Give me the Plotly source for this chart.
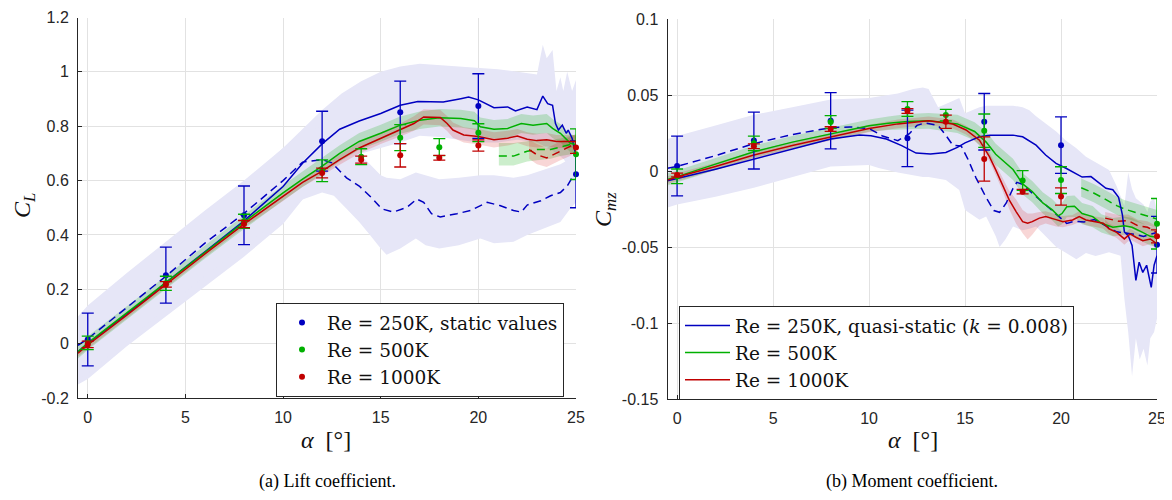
import plotly.graph_objects as go

# ---------------- lift coefficient (left panel) ----------------
# Re = 250K, quasi-static, upstroke (solid) and downstroke (dashed)
cl_b_up_a = [-0.5, 0, 1, 2, 3, 4, 5, 6, 7, 8, 9, 10, 11, 12, 12.9, 13.9, 15, 16, 16.9, 18.2,
             19.1, 19.5, 20, 20.8, 21.5, 21.9, 22.5, 23.0, 23.3, 23.55, 23.8, 23.95, 24.1, 24.3,
             24.5, 24.6, 24.8, 25.0, 25.0]
cl_b_up = [-0.03, 0.0, 0.055, 0.11, 0.165, 0.225, 0.28, 0.338, 0.395, 0.452, 0.515, 0.578, 0.664,
           0.735, 0.789, 0.819, 0.847, 0.877, 0.891, 0.889, 0.901, 0.907, 0.897, 0.868, 0.871,
           0.856, 0.871, 0.861, 0.911, 0.883, 0.877, 0.81, 0.786, 0.804, 0.774, 0.786, 0.756,
           0.69, 0.62]
cl_b_dn_a = [-0.5, 0, 2, 4, 6, 8, 10, 11, 12, 12.5, 13.25, 13.9, 14.6, 15.05, 15.65, 16.35, 16.85,
             17.2, 17.6, 18.05, 18.9, 19.6, 20.45, 21.1, 21.8, 22.2, 22.5, 23.2, 23.7, 24.2, 24.55,
             24.8, 25]
cl_b_dn = [-0.006, 0.018, 0.133, 0.248, 0.37, 0.479, 0.60, 0.668, 0.677, 0.665, 0.61, 0.58, 0.532,
           0.496, 0.484, 0.502, 0.532, 0.52, 0.478, 0.466, 0.478, 0.49, 0.52, 0.508, 0.49, 0.484,
           0.51, 0.526, 0.544, 0.556, 0.58, 0.61, 0.62]

# Re = 250K scatter bands (upstroke / downstroke)
cl_bb_up_a = [-0.5, 0, 2, 4, 6, 8, 10, 11, 12, 13, 14, 15, 16, 17, 18, 19, 20, 21, 22, 23, 23.3,
              23.5, 23.8, 24.0, 24.2, 24.35, 24.55, 24.8, 25]
cl_bb_up_hi = [0.09, 0.13, 0.245, 0.36, 0.475, 0.59, 0.72, 0.79, 0.86, 0.92, 0.965, 1.0, 1.02,
               1.03, 1.025, 1.02, 1.015, 1.01, 1.0, 0.99, 1.10, 1.05, 1.08, 0.93, 0.98, 0.93, 1.0,
               0.93, 0.97]
cl_bb_up_lo = [-0.15, -0.13, -0.01, 0.10, 0.21, 0.32, 0.44, 0.53, 0.62, 0.67, 0.70, 0.72, 0.74,
               0.765, 0.76, 0.75, 0.74, 0.74, 0.75, 0.74, 0.73, 0.72, 0.71, 0.70, 0.69, 0.68, 0.66,
               0.62, 0.58]
cl_bb_dn_a = [-0.5, 0, 2, 4, 6, 8, 10, 11, 12, 12.6, 13.25, 13.9, 14.45, 15, 15.3, 16, 16.8, 17.3,
              18, 19, 20.1, 20.8, 21.8, 22.5, 23.3, 24.2, 24.7, 25]
cl_bb_dn_lo = [-0.13, -0.11, 0.01, 0.13, 0.25, 0.36, 0.46, 0.53, 0.556, 0.544, 0.496, 0.448, 0.40,
               0.35, 0.327, 0.35, 0.387, 0.362, 0.35, 0.362, 0.387, 0.369, 0.375, 0.40, 0.424,
               0.448, 0.496, 0.52]
cl_bb_dn_hi = [0.10, 0.14, 0.26, 0.375, 0.49, 0.60, 0.72, 0.78, 0.80, 0.78, 0.74, 0.70, 0.66, 0.62,
               0.61, 0.605, 0.63, 0.62, 0.605, 0.61, 0.62, 0.62, 0.61, 0.62, 0.64, 0.66, 0.68, 0.70]

# Re = 500K
cl_g_a = [-0.5, 0, 2, 4, 6, 8, 8.8, 10, 11, 12, 12.9, 13.9, 15, 16, 17, 18, 19.1, 19.8, 20.1, 20.8,
          21.5, 22.2, 22.8, 23.5, 23.8, 24.2, 24.7, 25]
cl_g = [-0.03, 0.002, 0.113, 0.225, 0.338, 0.447, 0.49, 0.555, 0.605, 0.653, 0.70, 0.744, 0.774,
        0.804, 0.822, 0.831, 0.828, 0.82, 0.798, 0.789, 0.792, 0.81, 0.804, 0.81, 0.792, 0.774,
        0.738, 0.732]
cl_g_lo = [-0.055, -0.023, 0.088, 0.2, 0.313, 0.422, 0.463, 0.527, 0.576, 0.623, 0.67, 0.713, 0.743,
           0.772, 0.79, 0.799, 0.795, 0.787, 0.764, 0.755, 0.757, 0.775, 0.769, 0.775, 0.757, 0.74,
           0.705, 0.70]
cl_g_hi = [-0.005, 0.027, 0.138, 0.25, 0.363, 0.472, 0.517, 0.583, 0.634, 0.683, 0.73, 0.775, 0.805,
           0.836, 0.854, 0.863, 0.861, 0.853, 0.832, 0.823, 0.827, 0.845, 0.839, 0.845, 0.827,
           0.808, 0.771, 0.764]
cl_gd_a = [21.05, 21.8, 22.5, 23, 23.7, 24.2, 25]
cl_gd = [0.69, 0.69, 0.708, 0.714, 0.714, 0.723, 0.738]
cl_gd_lo = [0.655, 0.655, 0.67, 0.675, 0.68, 0.69, 0.70]
cl_gd_hi = [0.738, 0.738, 0.745, 0.75, 0.75, 0.755, 0.77]

# Re = 1000K
cl_r_a = [-0.5, 0, 2, 4, 6, 8, 8.8, 10, 11, 12, 12.9, 13.9, 15, 16, 16.7, 17.2, 18.05, 18.4, 18.7,
          19.25, 20, 20.8, 21.5, 22, 22.5, 23, 23.5, 24, 24.5, 25]
cl_r = [-0.035, -0.005, 0.105, 0.218, 0.33, 0.44, 0.48, 0.54, 0.593, 0.635, 0.677, 0.72, 0.756,
        0.786, 0.81, 0.834, 0.832, 0.81, 0.786, 0.768, 0.762, 0.75, 0.756, 0.764, 0.752, 0.747,
        0.75, 0.744, 0.744, 0.744]
cl_r_lo = [-0.047, -0.017, 0.093, 0.206, 0.318, 0.428, 0.466, 0.525, 0.577, 0.618, 0.658, 0.70,
           0.735, 0.762, 0.783, 0.806, 0.804, 0.782, 0.758, 0.74, 0.733, 0.722, 0.729, 0.738, 0.726,
           0.722, 0.725, 0.72, 0.72, 0.72]
cl_r_hi = [-0.023, 0.007, 0.117, 0.23, 0.342, 0.452, 0.494, 0.555, 0.609, 0.652, 0.696, 0.74, 0.777,
           0.81, 0.837, 0.862, 0.86, 0.838, 0.814, 0.796, 0.79, 0.778, 0.783, 0.79, 0.778, 0.772,
           0.775, 0.768, 0.768, 0.768]
cl_rd_a = [22.6, 23, 23.5, 23.8, 24.2, 24.7, 25]
cl_rd = [0.714, 0.695, 0.683, 0.695, 0.708, 0.726, 0.738]
cl_rd_lo = [0.68, 0.66, 0.65, 0.66, 0.675, 0.69, 0.71]
cl_rd_hi = [0.75, 0.735, 0.72, 0.73, 0.745, 0.76, 0.77]

# static values with error bars
st_a_b = [0, 4, 8, 12, 16, 20, 25]
st_a_gr = [0, 4, 8, 12, 14, 16, 18, 20, 25]
cl_st_b = [0.015, 0.252, 0.472, 0.745, 0.851, 0.874, 0.623]
cl_st_b_err = [0.097, 0.103, 0.108, 0.110, 0.115, 0.119, 0.123]
cl_st_g = [0.003, 0.222, 0.45, 0.636, 0.688, 0.758, 0.723, 0.776, 0.697]
cl_st_g_err = [0.025, 0.026, 0.026, 0.04, 0.029, 0.048, 0.031, 0.033, 0.093]
cl_st_r = [-0.003, 0.218, 0.44, 0.628, 0.677, 0.693, 0.684, 0.729, 0.722]
cl_st_r_err = [0.012, 0.01, 0.013, 0.018, 0.013, 0.043, 0.009, 0.021, 0.022]

# ---------------- moment coefficient (right panel) ----------------
cm_b_up_a = [-0.5, 0, 2, 4, 6, 8, 9.5, 10.1, 10.9, 11.7, 12.45, 13.2, 14, 14.6, 15, 15.75, 16.3,
             17.5, 18, 18.7, 19.2, 19.74, 20.26, 20.78, 21.1, 21.56, 22, 22.34, 22.7, 23.0, 23.2,
             23.3, 23.5, 23.7, 23.9, 24.07, 24.26, 24.46, 24.7, 24.85, 25]
cm_b_up = [-0.0064, -0.005, 0.0012, 0.0079, 0.0145, 0.021, 0.0237, 0.0232, 0.021, 0.0167, 0.0118,
           0.0112, 0.0122, 0.0155, 0.0185, 0.0225, 0.0236, 0.0236, 0.0225, 0.017, 0.0105, 0.005,
           0.0018, -0.0015, -0.004, -0.0037, -0.008, -0.0114, -0.0123, -0.0173, -0.029, -0.04,
           -0.0425, -0.049, -0.072, -0.06, -0.0667, -0.062, -0.0765, -0.062, -0.0557]
cm_b_dn_a = [-0.5, 0, 2, 4, 6, 8, 9, 10, 10.7, 11.5, 12.1, 12.5, 12.9, 13.6, 14, 14.36, 14.8, 15.16,
             15.57, 16.1, 16.5, 16.8, 17.14, 17.5, 17.7, 18, 18.7, 19.4, 19.9, 20.3, 20.7, 21.2,
             21.75, 22.3, 22.9, 23.7, 24.3, 25]
cm_b_dn = [0.0018, 0.003, 0.0101, 0.018, 0.024, 0.0285, 0.029, 0.028, 0.023, 0.020, 0.0245, 0.030,
           0.0316, 0.030, 0.0235, 0.017, 0.0165, 0.0075, -0.0045, -0.0175, -0.026, -0.0272,
           -0.0212, -0.0114, -0.0075, -0.0088, -0.0168, -0.0245, -0.030, -0.0345, -0.033, -0.0335,
           -0.032, -0.036, -0.040, -0.0414, -0.043, -0.0404]
cm_bb_a = [-0.5, 0, 2, 4, 6, 8, 10, 10.5, 11.5, 12.3, 12.8, 13.1, 13.6, 14, 14.7, 15, 15.75, 16.1,
           16.6, 16.8, 17.1, 17.5, 18, 18.35, 18.7, 19.2, 19.75, 20.25, 20.8, 21.3, 21.8, 22.5,
           22.9, 23.1, 23.3, 23.5, 23.7, 23.9, 24.1, 24.3, 24.5, 24.65, 24.85, 25]
cm_bb_hi = [0.021, 0.023, 0.030, 0.037, 0.042, 0.047, 0.048, 0.049, 0.051, 0.054, 0.055, 0.054,
            0.042, 0.044, 0.048, 0.038, 0.042, 0.043, 0.043, 0.043, 0.043, 0.043, 0.042, 0.040,
            0.036, 0.031, 0.026, 0.02, 0.015, 0.0094, 0.006, 0.0007, -0.01, -0.016, -0.023, -0.001,
            -0.012, -0.018, -0.02, -0.022, -0.027, -0.02, -0.018, -0.027]
cm_bb_lo = [-0.024, -0.022, -0.017, -0.011, -0.004, 0.003, 0.004, 0.002, -0.001, -0.003, -0.004,
            -0.004, -0.005, -0.006, -0.0125, -0.0256, -0.032, -0.030, -0.043, -0.05, -0.045,
            -0.0365, -0.039, -0.038, -0.0365, -0.043, -0.05, -0.054, -0.058, -0.054, -0.056,
            -0.0535, -0.055, -0.0557, -0.084, -0.106, -0.135, -0.11, -0.124, -0.117, -0.128, -0.11,
            -0.106, -0.097]

cm_g_a = [-0.5, 0, 2, 4, 6, 8, 10, 11, 12, 13.1, 14.6, 15.5, 16.1, 16.6, 17.1, 17.5, 18, 18.5,
          19.05, 19.55, 19.85, 20.05, 20.3, 20.7, 21.1, 21.65, 22.1, 22.7, 23.3, 23.7, 24.25,
          24.65, 25]
cm_g = [-0.0055, -0.0037, 0.0045, 0.0127, 0.019, 0.0243, 0.0298, 0.0314, 0.0325, 0.033, 0.031,
        0.026, 0.019, 0.011, 0.0055, 0.001, -0.0085, -0.0135, -0.021, -0.0256, -0.0295, -0.028,
        -0.0235, -0.0232, -0.028, -0.030, -0.0344, -0.037, -0.036, -0.037, -0.0404, -0.043,
        -0.0436]
cm_g_lo = [-0.0095, -0.0077, 0.0005, 0.0087, 0.015, 0.0203, 0.0258, 0.027, 0.0275, 0.0278, 0.025,
           0.020, 0.012, 0.004, -0.0015, -0.006, -0.0155, -0.0205, -0.028, -0.0326, -0.0365,
           -0.035, -0.0305, -0.0302, -0.035, -0.037, -0.0404, -0.043, -0.042, -0.043, -0.0464,
           -0.049, -0.0496]
cm_g_hi = [-0.0015, 0.0003, 0.0085, 0.0167, 0.023, 0.0283, 0.0338, 0.0358, 0.0375, 0.0382, 0.037,
           0.032, 0.026, 0.018, 0.0125, 0.008, -0.0015, -0.0065, -0.014, -0.0186, -0.0225, -0.021,
           -0.0165, -0.0162, -0.021, -0.023, -0.0284, -0.031, -0.030, -0.031, -0.0344, -0.037,
           -0.0376]
cm_gd_a = [21.05, 21.7, 22.2, 22.9, 23.3, 23.9, 24.45, 25]
cm_gd = [-0.011, -0.0145, -0.0178, -0.0228, -0.025, -0.0272, -0.0294, -0.0316]
cm_gd_lo = [-0.017, -0.0205, -0.0238, -0.0288, -0.031, -0.0332, -0.0354, -0.0376]
cm_gd_hi = [-0.005, -0.0085, -0.0118, -0.0168, -0.019, -0.0212, -0.0234, -0.0256]

cm_r_a = [-0.5, 0, 2, 4, 6, 8, 10, 11.5, 13.1, 14.36, 15.05, 15.75, 16.27, 16.6, 16.96, 17.3,
          17.66, 18, 18.26, 18.5, 18.87, 19.2, 19.74, 20.1, 20.6, 20.95, 21.3, 21.8, 22.2, 22.5,
          22.9, 23.3, 23.6, 23.9, 24.26, 24.65, 25]
cm_r = [-0.006, -0.004, 0.003, 0.0105, 0.0168, 0.0226, 0.028, 0.031, 0.033, 0.0309, 0.027, 0.0203,
        0.0094, 0.0007, -0.0092, -0.019, -0.0267, -0.0333, -0.0344, -0.0333, -0.031, -0.030,
        -0.032, -0.0333, -0.0322, -0.030, -0.0322, -0.0333, -0.0344, -0.038, -0.0404, -0.0447,
        -0.0414, -0.0436, -0.0458, -0.0447, -0.048]
cm_r_lo = [-0.0085, -0.0065, 0.0005, 0.008, 0.0143, 0.0201, 0.0255, 0.0282, 0.0302, 0.0279, 0.024,
           0.0173, 0.0064, -0.0028, -0.0132, -0.025, -0.0347, -0.041, -0.045, -0.042, -0.036,
           -0.0345, -0.0365, -0.037, -0.0355, -0.0335, -0.0355, -0.0368, -0.038, -0.0415, -0.044,
           -0.0485, -0.045, -0.047, -0.0495, -0.048, -0.0515]
cm_r_hi = [-0.0035, -0.0015, 0.0055, 0.013, 0.0193, 0.0251, 0.0305, 0.0338, 0.0358, 0.0339, 0.030,
           0.0233, 0.0124, 0.0042, -0.0052, -0.013, -0.0187, -0.0256, -0.028, -0.028, -0.027,
           -0.0265, -0.0285, -0.0296, -0.0289, -0.0265, -0.0289, -0.0298, -0.0308, -0.0345,
           -0.0368, -0.041, -0.0378, -0.0402, -0.0421, -0.0414, -0.0445]
cm_rd_a = [22.3, 23, 23.5, 24, 24.5, 25]
cm_rd = [-0.031, -0.033, -0.0327, -0.036, -0.037, -0.0404]
cm_rd_lo = [-0.035, -0.037, -0.0367, -0.040, -0.041, -0.0444]
cm_rd_hi = [-0.027, -0.029, -0.0287, -0.032, -0.033, -0.0364]

cm_st_b = [0.0033, 0.020, 0.033, 0.0215, 0.0324, 0.017, -0.0485]
cm_st_b_err = [0.0197, 0.0187, 0.0185, 0.0186, 0.0186, 0.0186, 0.0186]
cm_st_g = [-0.0035, 0.0182, 0.0322, 0.0408, 0.0368, 0.0265, -0.0062, -0.006, -0.0347]
cm_st_g_err = [0.0048, 0.0048, 0.0042, 0.0048, 0.0038, 0.011, 0.0065, 0.0088, 0.0166]
cm_st_r = [-0.0026, 0.0163, 0.0276, 0.0395, 0.0324, 0.0079, -0.0136, -0.0168, -0.043]
cm_st_r_err = [0.0012, 0.0016, 0.0015, 0.0016, 0.0043, 0.0145, 0.0015, 0.0057, 0.0043]

# ticks
x_ticks = [0, 5, 10, 15, 20, 25]
cl_ticks = [-0.2, 0, 0.2, 0.4, 0.6, 0.8, 1, 1.2]
cl_ticktext = ["-0.2", "0", "0.2", "0.4", "0.6", "0.8", "1", "1.2"]
cm_ticks = [-0.15, -0.1, -0.05, 0, 0.05, 0.1]
cm_ticktext = ["-0.15", "-0.1", "-0.05", "0", "0.05", "0.1"]

names = ["Re = 250K, static values", "Re = 500K", "Re = 1000K"]
names_qs = ["Re = 250K, quasi-static (<i>k</i> = 0.008)", "Re = 500K", "Re = 1000K"]

BLUE, GREEN, RED = "#0000c0", "#00b000", "#c00000"
LAV = "#e6e6f7"
GFILL, RFILL = "rgba(0,170,0,0.20)", "rgba(210,0,0,0.16)"
SERIF = "Liberation Serif"
LEG_SERIF = "DejaVu Serif"
SANS = "Liberation Sans"

fig = go.Figure()


def band(a, lo, hi, color, xa, ya):
    fig.add_trace(go.Scatter(x=list(a) + list(a)[::-1], y=list(hi) + list(lo)[::-1],
                             fill="toself", fillcolor=color, line=dict(width=0),
                             mode="lines", hoverinfo="skip", showlegend=False,
                             xaxis=xa, yaxis=ya))


def curve(a, v, color, xa, ya, dash="solid", name=None, legend=None):
    fig.add_trace(go.Scatter(x=a, y=v, mode="lines", line=dict(color=color, width=1.5, dash=dash),
                             name=name, showlegend=legend is not None,
                             legend=legend or "legend", xaxis=xa, yaxis=ya))


def static(a, v, err, color, xa, ya, name=None, legend=None):
    fig.add_trace(go.Scatter(x=a, y=v, mode="markers", marker=dict(color=color, size=6),
                             error_y=dict(type="data", array=err, color=color, thickness=1.3,
                                          width=6),
                             name=name, showlegend=legend is not None, cliponaxis=False,
                             legend=legend or "legend", xaxis=xa, yaxis=ya))


# left panel
band(cl_bb_up_a, cl_bb_up_lo, cl_bb_up_hi, LAV, "x", "y")
band(cl_bb_dn_a, cl_bb_dn_lo, cl_bb_dn_hi, LAV, "x", "y")
band(cl_g_a, cl_g_lo, cl_g_hi, GFILL, "x", "y")
band(cl_gd_a, cl_gd_lo, cl_gd_hi, GFILL, "x", "y")
band(cl_r_a, cl_r_lo, cl_r_hi, RFILL, "x", "y")
band(cl_rd_a, cl_rd_lo, cl_rd_hi, RFILL, "x", "y")
curve(cl_b_dn_a, cl_b_dn, BLUE, "x", "y", dash="8px,5px")
curve(cl_gd_a, cl_gd, GREEN, "x", "y", dash="8px,5px")
curve(cl_rd_a, cl_rd, RED, "x", "y", dash="8px,5px")
curve(cl_b_up_a, cl_b_up, BLUE, "x", "y")
curve(cl_g_a, cl_g, GREEN, "x", "y")
curve(cl_r_a, cl_r, RED, "x", "y")
static(st_a_b, cl_st_b, cl_st_b_err, BLUE, "x", "y", names[0], "legend")
static(st_a_gr, cl_st_g, cl_st_g_err, GREEN, "x", "y", names[1], "legend")
static(st_a_gr, cl_st_r, cl_st_r_err, RED, "x", "y", names[2], "legend")

# right panel
band(cm_bb_a, cm_bb_lo, cm_bb_hi, LAV, "x2", "y2")
band(cm_g_a, cm_g_lo, cm_g_hi, GFILL, "x2", "y2")
band(cm_gd_a, cm_gd_lo, cm_gd_hi, GFILL, "x2", "y2")
band(cm_r_a, cm_r_lo, cm_r_hi, RFILL, "x2", "y2")
band(cm_rd_a, cm_rd_lo, cm_rd_hi, RFILL, "x2", "y2")
curve(cm_b_dn_a, cm_b_dn, BLUE, "x2", "y2", dash="8px,5px")
curve(cm_gd_a, cm_gd, GREEN, "x2", "y2", dash="8px,5px")
curve(cm_rd_a, cm_rd, RED, "x2", "y2", dash="8px,5px")
curve(cm_b_up_a, cm_b_up, BLUE, "x2", "y2", name=names_qs[0], legend="legend2")
curve(cm_g_a, cm_g, GREEN, "x2", "y2", name=names_qs[1], legend="legend2")
curve(cm_r_a, cm_r, RED, "x2", "y2", name=names_qs[2], legend="legend2")
static(st_a_b, cm_st_b, cm_st_b_err, BLUE, "x2", "y2")
static(st_a_gr, cm_st_g, cm_st_g_err, GREEN, "x2", "y2")
static(st_a_gr, cm_st_r, cm_st_r_err, RED, "x2", "y2")

# the page body adds an 8px margin, so the figure is drawn 8px smaller and everything shifted
W, H = 1164, 492
axis_common = dict(showgrid=True, gridcolor="#e2e2e2", gridwidth=1, zeroline=False,
                   showline=True, linecolor="#262626", linewidth=1, ticks="inside", ticklen=4,
                   tickcolor="#262626", tickfont=dict(family=SANS, size=16, color="#262626"),
                   automargin=False, ticklabelstandoff=5, ticklabeloverflow="allow")

fig.update_layout(
    width=W, height=H, margin=dict(l=0, r=0, t=0, b=0),
    paper_bgcolor="white", plot_bgcolor="white", template="none",
    xaxis=dict(domain=[70 / W, 568 / W], range=[-0.5, 25], tickvals=x_ticks, anchor="y",
               **axis_common),
    yaxis=dict(domain=[1 - 390 / H, 1 - 9.5 / H], range=[-0.2, 1.2], tickvals=cl_ticks,
               ticktext=cl_ticktext, anchor="x", **axis_common),
    xaxis2=dict(domain=[659.5 / W, 1149 / W], range=[-0.5, 25], tickvals=x_ticks, anchor="y2",
                **axis_common),
    yaxis2=dict(domain=[1 - 391 / H, 1 - 11 / H], range=[-0.15, 0.1], tickvals=cm_ticks,
                ticktext=cm_ticktext, anchor="x2", **axis_common),
    legend=dict(x=556 / W, xanchor="right", y=1 - 295 / H, yanchor="top",
                bgcolor="white", bordercolor="#262626", borderwidth=1, itemwidth=40,
                font=dict(family=LEG_SERIF, size=18.5, color="#111111"), tracegroupgap=0),
    legend2=dict(x=671 / W, xanchor="left", y=1 - 298 / H, yanchor="top",
                 bgcolor="white", bordercolor="#262626", borderwidth=1, itemwidth=45,
                 font=dict(family=LEG_SERIF, size=18.5, color="#111111"), tracegroupgap=0),
    showlegend=True,
)

title_font = dict(family=SERIF, size=24, color="#111111")
annots = [
    dict(x=16 / W, y=1 - 198 / H, text="<i>C</i><sub><i>L</i></sub>", textangle=-90),
    dict(x=597 / W, y=1 - 202 / H, text="<i>C</i><sub><i>mz</i></sub>", textangle=-90),
    dict(x=318 / W, y=1 - 432 / H, text="<i>α</i>  [°]", textangle=0),
    dict(x=905 / W, y=1 - 432 / H, text="<i>α</i>  [°]", textangle=0),
]
for a in annots:
    fig.add_annotation(xref="paper", yref="paper", showarrow=False, font=title_font,
                       xanchor="center", yanchor="middle", **a)
for cx, txt in [(319, "(a) Lift coefficient."), (904, "(b) Moment coefficient.")]:
    fig.add_annotation(xref="paper", yref="paper", x=cx / W, y=1 - 473 / H, text=txt,
                       showarrow=False, xanchor="center", yanchor="middle",
                       font=dict(family=SERIF, size=18, color="black"))

fig.write_html("out.html")
